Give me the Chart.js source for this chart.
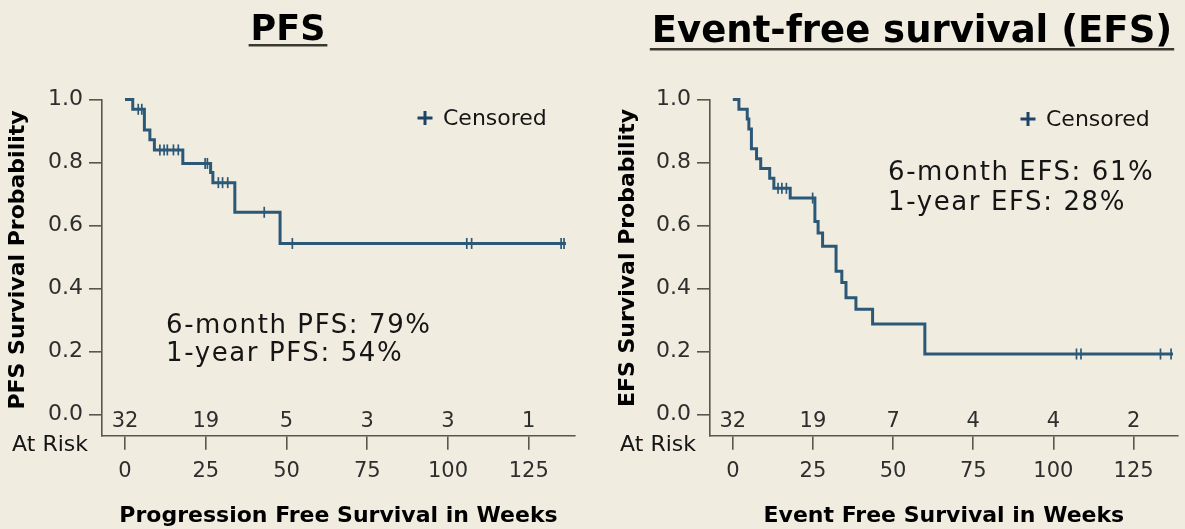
<!DOCTYPE html>
<html><head><meta charset="utf-8">
<script src="https://cdn.jsdelivr.net/npm/chart.js@4"></script>
<style>
html,body{margin:0;padding:0;background:#f0ede0;}
#wrap{position:relative;width:1185px;height:529px;overflow:hidden;background:#f0ede0;}
canvas{position:absolute;top:0;}
</style></head><body>
<div id="wrap">
<canvas id="pfs" width="590" height="529" style="left:0"></canvas>
<canvas id="efs" width="590" height="529" style="left:595px"></canvas>
</div>
<script>
// ---------- DATA ----------
// PFS Kaplan-Meier step points (weeks, survival probability)
const pfsTimes = [0, 2.4, 6.0, 7.7, 9.1, 17.9, 26.5, 27.2, 34.0, 48.0, 136.5];
const pfsSurv  = [1.0, 0.969, 0.903, 0.872, 0.840, 0.797, 0.768, 0.736, 0.642, 0.543, 0.543];
const pfsCensorTimes = [4.1, 5.2, 10.8, 12.1, 13.1, 15.0, 16.5, 24.8, 25.5, 28.9, 30.2, 31.8, 43.1, 51.8, 105.8, 107.3, 135.0, 135.9];
const pfsCensorSurv  = [0.969, 0.969, 0.840, 0.840, 0.840, 0.840, 0.840, 0.797, 0.797, 0.736, 0.736, 0.736, 0.642, 0.543, 0.543, 0.543, 0.543, 0.543];
const pfsAtRisk = [32, 19, 5, 3, 3, 1];

// EFS Kaplan-Meier step points
const efsTimes = [0, 1.9, 4.5, 5.0, 5.8, 7.4, 8.7, 11.5, 12.8, 17.9, 25.6, 26.6, 28.0, 32.2, 34.0, 35.3, 38.4, 43.6, 59.9, 137.3];
const efsSurv  = [1.0, 0.969, 0.938, 0.906, 0.844, 0.812, 0.781, 0.750, 0.718, 0.687, 0.613, 0.576, 0.534, 0.455, 0.419, 0.371, 0.334, 0.287, 0.192, 0.192];
const efsCensorTimes = [14.1, 15.3, 16.7, 24.9, 107.2, 108.6, 133.4, 136.7];
const efsCensorSurv  = [0.718, 0.718, 0.718, 0.687, 0.192, 0.192, 0.192, 0.192];
const efsAtRisk = [32, 19, 7, 4, 4, 2];

// axis ticks
const xTickValues = [0, 25, 50, 75, 100, 125];
const yTickValues = [0, 0.2, 0.4, 0.6, 0.8, 1.0];

// texts
const pfsTitle = 'PFS';
const efsTitle = 'Event-free survival (EFS)';
const pfsYTitle = 'PFS Survival Probability';
const efsYTitle = 'EFS Survival Probability';
const pfsXTitle = 'Progression Free Survival in Weeks';
const efsXTitle = 'Event Free Survival in Weeks';
const pfsNotes = ['6-month PFS: 79%', '1-year PFS: 54%'];
const efsNotes = ['6-month EFS: 61%', '1-year EFS: 28%'];
const censorLabel = 'Censored';
const atRiskLabel = 'At Risk';

// ---------- STYLE ----------
const FONT = '"DejaVu Sans", Verdana, sans-serif';
const LINE = '#2b5877';
const AXIS = '#5a564c';
const TICKTXT = '#2e2e2e';
const TXT = '#151515';
Chart.defaults.font.family = FONT;

function toXY(xs, ys){ return xs.map((t,i)=>({x:t, y:ys[i]})); }

function makeDecor(c){
  return {
    id: 'decor_' + c.id,
    afterDraw(chart){
      const {ctx, chartArea, scales} = chart;
      const xs = scales.x;
      ctx.save();
      // main title, underlined
      ctx.fillStyle = '#000';
      ctx.font = 'bold ' + c.titleSize + 'px ' + FONT;
      ctx.textAlign = 'center';
      ctx.textBaseline = 'alphabetic';
      ctx.fillText(c.title, c.titleX, c.titleBase);
      const tw = ctx.measureText(c.title).width;
      ctx.fillStyle = '#3a382f';
      ctx.fillRect(c.titleX - tw/2 - 2, c.titleBase + c.ulOff, tw + 4, 2.5);
      // y title
      ctx.save();
      ctx.translate(c.yTitleX, c.yTitleY);
      ctx.rotate(-Math.PI/2);
      ctx.fillStyle = '#000';
      ctx.font = 'bold 22px ' + FONT;
      ctx.textBaseline = 'middle';
      ctx.fillText(c.yTitle, 0, 0);
      ctx.restore();
      // at-risk numbers
      ctx.fillStyle = TICKTXT;
      ctx.font = '21px ' + FONT;
      ctx.textAlign = 'center';
      ctx.textBaseline = 'middle';
      c.atRisk.forEach((n,i)=>{
        ctx.fillText(String(n), xs.getPixelForValue(xTickValues[i]), chartArea.bottom - 14);
      });
      ctx.fillStyle = TXT;
      ctx.textAlign = 'right';
      ctx.font = '22px ' + FONT;
      ctx.fillText(atRiskLabel, chartArea.left - 14, chartArea.bottom + 10);
      // censored legend
      ctx.strokeStyle = '#1d4466';
      ctx.lineWidth = 3;
      ctx.beginPath();
      ctx.moveTo(c.legX - 7.5, c.legY); ctx.lineTo(c.legX + 7.5, c.legY);
      ctx.moveTo(c.legX, c.legY - 7); ctx.lineTo(c.legX, c.legY + 7);
      ctx.stroke();
      ctx.fillStyle = TXT;
      ctx.font = '22px ' + FONT;
      ctx.textAlign = 'left';
      ctx.fillText(censorLabel, c.legX + 18, c.legY + 1);
      // notes
      ctx.font = '26px ' + FONT;
      if ('letterSpacing' in ctx) ctx.letterSpacing = '1.6px';
      c.notes.forEach((s,i)=> ctx.fillText(s, c.noteX, c.noteY + i * c.noteGap));
      ctx.restore();
    }
  };
}

function makeChart(c){
  const cfg = {
    type: 'line',
    data: {
      datasets: [
        {
          data: toXY(c.times, c.surv),
          stepped: 'before',
          borderColor: LINE,
          borderWidth: 3,
          pointRadius: 0,
          fill: false,
          clip: false
        },
        {
          data: toXY(c.cTimes, c.cSurv),
          showLine: false,
          pointStyle: 'line',
          rotation: 90,
          pointRadius: 5.5,
          pointBorderWidth: 1.7,
          pointBorderColor: LINE,
          pointBackgroundColor: LINE,
          borderColor: LINE,
          clip: false
        }
      ]
    },
    options: {
      responsive: false,
      animation: false,
      events: [],
      layout: { padding: { top: 99.5, right: c.padRight, bottom: 0, left: 0 } },
      plugins: { legend: { display: false }, tooltip: { enabled: false } },
      scales: {
        x: {
          type: 'linear',
          min: -7.12, max: c.xMax,
          afterBuildTicks: s => { s.ticks = xTickValues.map(v => ({value: v})); },
          afterFit: s => { s.height = 93.3; },
          grid: { drawOnChartArea: false, drawTicks: true, tickLength: 14, color: AXIS, lineWidth: 1.6 },
          border: { display: true, color: AXIS, width: 1.6 },
          ticks: { color: TICKTXT, font: { size: 21 }, padding: 9, maxRotation: 0, callback: v => String(v) },
          title: { display: true, text: c.xTitle, color: '#000', font: { size: 22, weight: 'bold' }, padding: { top: 0, bottom: 0 } }
        },
        y: {
          type: 'linear',
          min: -0.0673, max: 1.0,
          afterBuildTicks: s => { s.ticks = yTickValues.map(v => ({value: v})); },
          afterFit: s => { s.width = c.yWidth; },
          grid: { drawOnChartArea: false, drawTicks: true, tickLength: 13, color: AXIS, lineWidth: 1.6 },
          border: { display: true, color: AXIS, width: 1.6 },
          ticks: { color: TICKTXT, font: { size: 22 }, padding: 6, callback: v => Number(v).toFixed(1) }
        }
      }
    },
    plugins: [makeDecor(c)]
  };
  return new Chart(document.getElementById(c.id), cfg);
}

makeChart({
  id: 'pfs', times: pfsTimes, surv: pfsSurv, cTimes: pfsCensorTimes, cSurv: pfsCensorSurv,
  atRisk: pfsAtRisk, title: pfsTitle, titleSize: 35, titleX: 288, titleBase: 40, ulOff: 4,
  yTitle: pfsYTitle, yTitleX: 18, yTitleY: 260, xTitle: pfsXTitle,
  notes: pfsNotes, noteX: 166, noteY: 326, noteGap: 28,
  legX: 425, legY: 118, yWidth: 102, padRight: 15, xMax: 139.3
});
makeChart({
  id: 'efs', times: efsTimes, surv: efsSurv, cTimes: efsCensorTimes, cSurv: efsCensorSurv,
  atRisk: efsAtRisk, title: efsTitle, titleSize: 37, titleX: 317, titleBase: 42, ulOff: 6,
  yTitle: efsYTitle, yTitleX: 33, yTitleY: 258, xTitle: efsXTitle,
  notes: efsNotes, noteX: 293, noteY: 173, noteGap: 30,
  legX: 433, legY: 119, yWidth: 115, padRight: 5, xMax: 138.8
});
</script>
</body></html>
